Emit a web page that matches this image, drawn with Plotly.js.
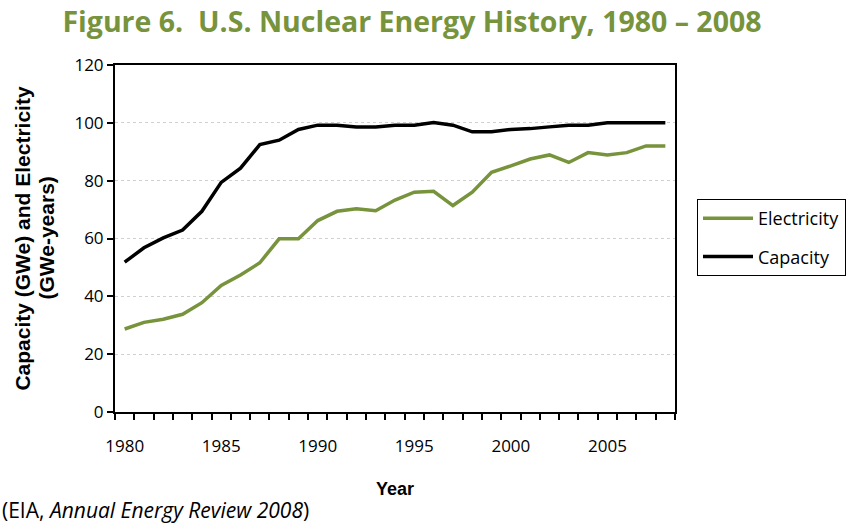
<!DOCTYPE html>
<html>
<head>
<meta charset="utf-8">
<script src="https://cdn.plot.ly/plotly-3.0.1.min.js"></script>
<style>
  html, body { margin: 0; padding: 0; background: #fff; }
  #chart { width: 851px; height: 523px; }
</style>
</head>
<body>
<div id="chart"></div>
<script>
const years = [1980,1981,1982,1983,1984,1985,1986,1987,1988,1989,1990,1991,1992,1993,1994,1995,1996,1997,1998,1999,2000,2001,2002,2003,2004,2005,2006,2007,2008];
const electricity = [28.7,31.0,32.1,33.8,37.8,43.8,47.4,51.6,59.9,59.9,66.2,69.4,70.3,69.6,73.3,76.0,76.3,71.4,76.0,82.9,85.1,87.5,88.9,86.3,89.7,88.9,89.7,92.0,92.0];
const capacity = [51.8,56.8,60.2,62.9,69.4,79.4,84.3,92.5,94.0,97.7,99.2,99.2,98.6,98.6,99.2,99.2,100.1,99.2,96.9,96.9,97.7,98.0,98.6,99.2,99.2,100.0,100.0,100.0,100.0];
const xTickVals = [1980,1985,1990,1995,2000,2005];
const xTickText = ['1980','1985','1990','1995','2000','2005'];
const yTickVals = [0,20,40,60,80,100,120];

const green = '#77933C';
const humanist = '"Open Sans", Lato, sans-serif';
const boldSans = '"Liberation Sans", Arial, sans-serif';
const tickFont = {family: humanist, size: 17, color: '#000'};

const traces = [
  {x: years, y: electricity, name: 'Electricity', type: 'scatter', mode: 'lines',
   line: {color: green, width: 3.5}, legendgroup: 'a'},
  {x: years, y: capacity, name: 'Capacity', type: 'scatter', mode: 'lines',
   line: {color: '#000', width: 3.5}, legendgroup: 'b'}
];

const layout = {
  width: 851, height: 523,
  margin: {l: 115, r: 176, t: 65, b: 111},
  paper_bgcolor: '#fff', plot_bgcolor: '#fff',
  showlegend: true,
  title: {
    text: 'Figure 6.  U.S. Nuclear Energy History, 1980 – 2008',
    font: {family: humanist, size: 28.5, color: green, weight: 'bold'},
    xref: 'container', x: 412/851, xanchor: 'center',
    yref: 'container', y: 1 - 22/523, yanchor: 'middle'
  },
  xaxis: {
    range: [1979.5, 2008.5],
    tickmode: 'array', tickvals: xTickVals, ticktext: xTickText,
    ticks: '', tickfont: tickFont, ticklabelstandoff: 18,
    minor: {tick0: 1979.5, dtick: 1, ticks: 'outside', ticklen: 6, tickwidth: 2, tickcolor: '#000', showgrid: false},
    showline: true, linecolor: '#000', linewidth: 2, mirror: true,
    showgrid: false, zeroline: false, automargin: false,
    title: {text: 'Year', font: {family: boldSans, size: 18, color: '#000', weight: 'bold'}, standoff: 26}
  },
  yaxis: {
    range: [0, 120],
    tickmode: 'array', tickvals: yTickVals,
    ticks: 'outside', ticklen: 6, tickwidth: 2, tickcolor: '#000',
    tickfont: tickFont,
    showline: true, linecolor: '#000', linewidth: 2, mirror: true,
    showgrid: true, gridcolor: '#d0d0d0', griddash: 'dot', gridwidth: 1,
    zeroline: false, automargin: false,
    title: {text: 'Capacity (GWe) and Electricity', font: {family: boldSans, size: 21, color: '#000', weight: 'bold'}, standoff: 38}
  },
  legend: {
    xref: 'container', yref: 'container',
    x: 697/851, xanchor: 'left',
    y: 1 - 199/523, yanchor: 'top',
    bordercolor: '#000', borderwidth: 1, bgcolor: '#fff',
    font: {family: humanist, size: 18, color: '#000'},
    traceorder: 'grouped', tracegroupgap: 12, itemwidth: 50
  },
  annotations: [
    {
      text: '(GWe-years)',
      xref: 'paper', yref: 'paper',
      x: (46-115)/560, xanchor: 'center',
      y: 0.5, yanchor: 'middle',
      textangle: -90, showarrow: false,
      font: {family: boldSans, size: 21, color: '#000', weight: 'bold'}
    },
    {
      text: '(EIA, <i>Annual Energy Review 2008</i>)',
      xref: 'paper', yref: 'paper',
      x: -115/560, xanchor: 'left',
      y: (412-510)/347, yanchor: 'middle',
      showarrow: false,
      font: {family: humanist, size: 21, color: '#000'}
    }
  ]
};

Plotly.newPlot('chart', traces, layout, {displayModeBar: false, staticPlot: true});
</script>
</body>
</html>
